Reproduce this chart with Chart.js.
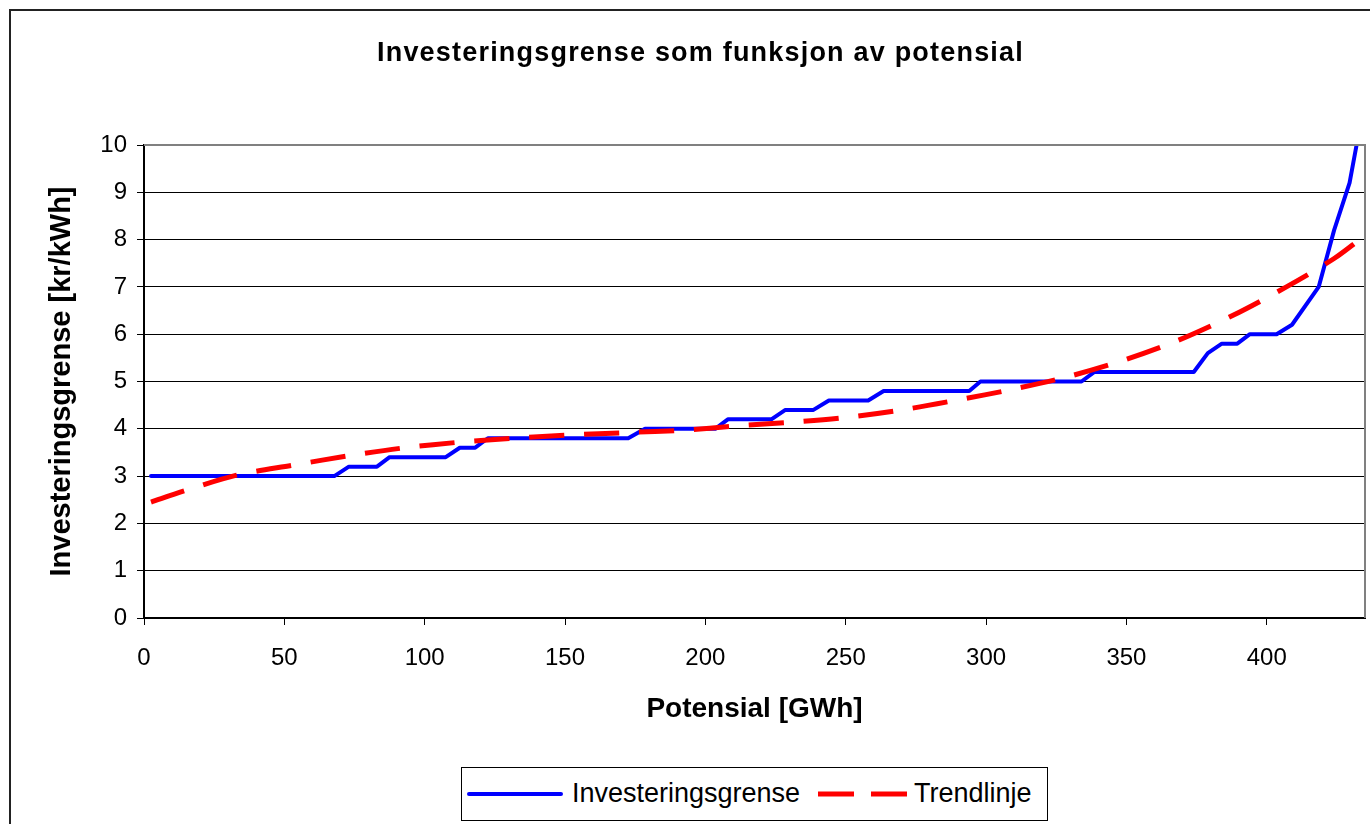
<!DOCTYPE html>
<html>
<head>
<meta charset="utf-8">
<script src="https://cdn.jsdelivr.net/npm/chart.js@4/dist/chart.umd.min.js"></script>
<style>
  html, body { margin: 0; padding: 0; background: #fff; overflow: hidden; }
  #wrap { position: relative; width: 1370px; height: 824px; }
  #frame { position: absolute; left: 9px; top: 9px; width: 1400px; height: 900px; border: 2px solid #222; box-sizing: border-box; }
  canvas { position: absolute; left: 0; top: 0; }
  #title { position: absolute; left: 0; top: 35px; width: 1401px; text-align: center; white-space: nowrap;
           font-family: "Liberation Sans", Arial, sans-serif; font-weight: bold; font-size: 27px; line-height: 34px; letter-spacing: 1.2px; color: #000; }
  #legend { position: absolute; left: 461px; top: 767px; width: 587px; height: 54px; border: 1px solid #000; box-sizing: border-box; background: #fff;
            font-family: "Liberation Sans", Arial, sans-serif; font-size: 27px; color: #000; }
  #legend span { position: absolute; top: 10px; line-height: 31px; white-space: nowrap; }
  #legend svg { position: absolute; left: 0; top: 0; }
</style>
</head>
<body>
<div id="wrap">
  <div id="frame"></div>
  <canvas id="c" width="1370" height="824"></canvas>
  <div id="title"></div>
  <div id="legend">
    <svg width="587" height="54">
      <line x1="7" y1="26" x2="99" y2="26" stroke="#0000FF" stroke-width="4" stroke-linecap="round"/>
      <line x1="356" y1="26" x2="445" y2="26" stroke="#FF0000" stroke-width="5" stroke-dasharray="36 17"/>
    </svg>
    <span id="lg0" style="left:110px"></span>
    <span id="lg1" style="left:452px"></span>
  </div>
</div>
<script>
// ---- Data ----
const chartTitle = "Investeringsgrense som funksjon av potensial";
const xTitle = "Potensial [GWh]";
const yTitle = "Investeringsgrense [kr/kWh]";
const seriesNames = ["Investeringsgrense", "Trendlinje"];

// Investeringsgrense (blue step-like line)
const potensial = [2.5, 67.8, 73, 83, 87.5, 107.5, 112.5, 118, 122.5, 172.5, 178.5, 203.5, 208, 223.5, 228.5, 238.5, 244, 258, 263.5, 294, 298, 334, 338.5, 374, 379, 384, 389.5, 394, 403.5, 409, 418.5, 424, 429.5, 432, 433.5];
const grense    = [3.0, 3.0, 3.2, 3.2, 3.4, 3.4, 3.6, 3.6, 3.8, 3.8, 4.0, 4.0, 4.2, 4.2, 4.4, 4.4, 4.6, 4.6, 4.8, 4.8, 5.0, 5.0, 5.2, 5.2, 5.6, 5.8, 5.8, 6.0, 6.0, 6.2, 7.0, 8.2, 9.2, 10.0, 10.8];

// Trendlinje (red dashed)
const trendX = [2.5, 14, 33, 53, 74, 93, 113, 132, 152, 172, 192, 211, 231, 250, 270, 290, 309, 329, 349, 368, 388, 407, 424, 433.5];
const trendY = [2.45, 2.68, 3.02, 3.23, 3.44, 3.6, 3.72, 3.8, 3.87, 3.92, 3.97, 4.06, 4.14, 4.24, 4.4, 4.61, 4.83, 5.1, 5.45, 5.86, 6.4, 7.0, 7.6, 8.02];

const xMin = 0, xMax = 435, xStep = 50;
const yMin = 0, yMax = 10, yStep = 1;

const FONT = '"Liberation Sans", Arial, sans-serif';

document.getElementById('title').textContent = chartTitle;
document.getElementById('lg0').textContent = seriesNames[0];
document.getElementById('lg1').textContent = seriesNames[1];

const plotBorder = {
  id: 'plotBorder',
  afterDatasetsDraw(chart) {
    const {ctx, chartArea: a} = chart;
    ctx.save();
    ctx.strokeStyle = '#808080';
    ctx.lineWidth = 2;
    ctx.beginPath();
    ctx.moveTo(a.left, a.top);
    ctx.lineTo(a.right, a.top);
    ctx.lineTo(a.right, a.bottom);
    ctx.stroke();
    ctx.restore();
  }
};

new Chart(document.getElementById('c'), {
  type: 'scatter',
  data: {
    datasets: [
      {
        label: seriesNames[0],
        data: potensial.map((x, i) => ({x, y: grense[i]})),
        showLine: true,
        borderColor: '#0000FF',
        backgroundColor: '#0000FF',
        borderWidth: 4,
        pointRadius: 0,
        borderJoinStyle: 'round',
        borderCapStyle: 'round',
        tension: 0,
        clip: 0,
        order: 2
      },
      {
        label: seriesNames[1],
        data: trendX.map((x, i) => ({x, y: trendY[i]})),
        showLine: true,
        borderColor: '#FF0000',
        backgroundColor: '#FF0000',
        borderWidth: 5,
        borderDash: [35, 20],
        borderCapStyle: 'butt',
        pointRadius: 0,
        tension: 0.3,
        clip: 0,
        order: 1
      }
    ]
  },
  options: {
    responsive: false,
    animation: false,
    layout: { padding: { left: 10, right: 5, top: 145, bottom: 96 } },
    plugins: {
      legend: { display: false },
      tooltip: { enabled: false },
      title: { display: false }
    },
    scales: {
      x: {
        type: 'linear',
        min: xMin, max: xMax,
        afterFit(s) { s.height = 110; },
        afterBuildTicks(s) { s.ticks = s.ticks.filter(t => t.value % xStep === 0); },
        ticks: { stepSize: xStep, color: '#000', font: { family: FONT, size: 24 }, padding: 19, maxRotation: 0, autoSkip: false },
        grid: { display: true, drawOnChartArea: false, drawTicks: true, tickLength: 7, color: '#000', tickColor: '#000' },
        border: { display: true, color: '#000', width: 2 },
        title: { display: true, text: xTitle, color: '#000', font: { family: FONT, size: 28, weight: 'bold' }, padding: { top: 0, bottom: 2 } }
      },
      y: {
        type: 'linear',
        min: yMin, max: yMax,
        afterFit(s) { s.width = 134; },
        ticks: { stepSize: yStep, color: '#000', font: { family: FONT, size: 24 }, padding: 10 },
        grid: { display: true, drawTicks: true, tickLength: 7, lineWidth: 1,
                color: c => (c.tick && c.tick.value === yMax) ? '#808080' : '#000', tickColor: '#000' },
        border: { display: true, color: '#000', width: 2 },
        title: { display: true, text: yTitle, color: '#000', font: { family: FONT, size: 29, weight: 'bold' }, padding: { top: 35, bottom: 0 } }
      }
    }
  },
  plugins: [plotBorder]
});
</script>
</body>
</html>
